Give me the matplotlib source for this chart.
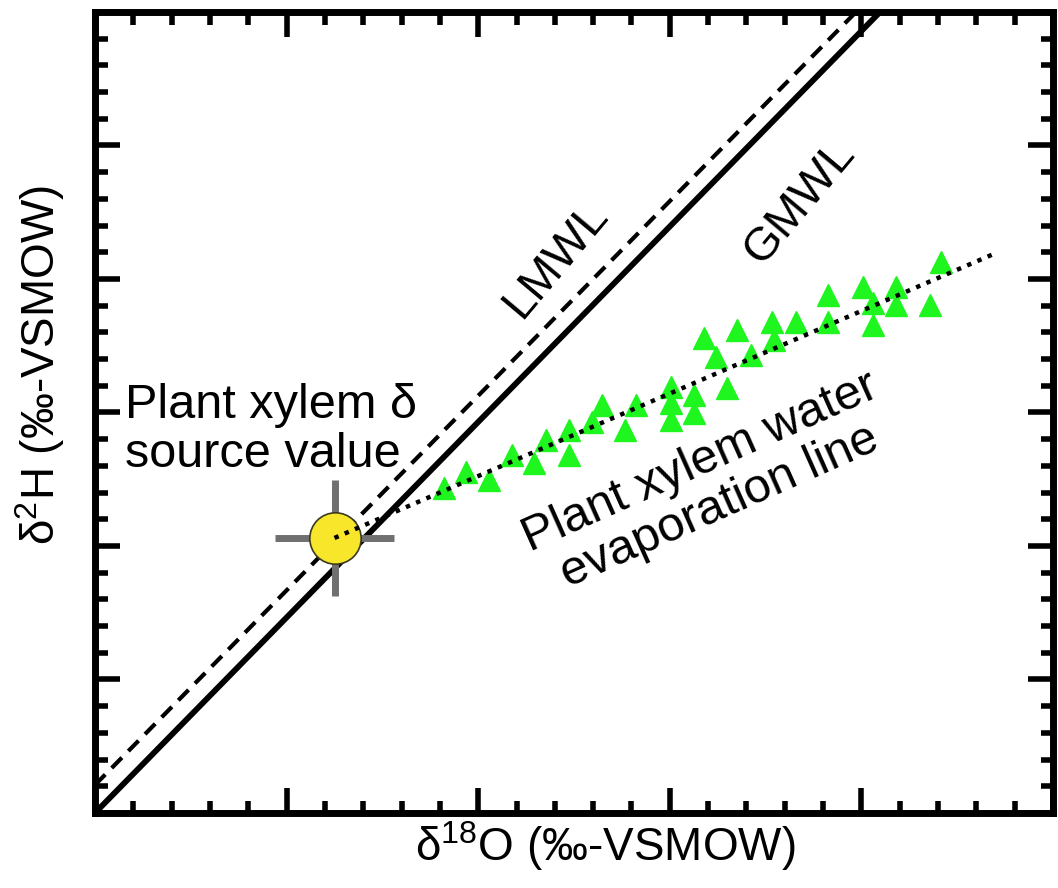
import matplotlib.pyplot as plt
from matplotlib.ticker import MultipleLocator

plt.rcParams['font.family'] = ['Liberation Sans', 'DejaVu Sans']
plt.rcParams['mathtext.fontset'] = 'custom'
plt.rcParams['mathtext.rm'] = 'Liberation Sans'

# plant xylem water samples (arbitrary delta units, no tick labels in source)
xylem_d18o = [1.823, 1.938, 2.057, 2.177, 2.292, 2.354, 2.474, 2.474, 2.594, 2.646,
              2.766, 2.823, 3.005, 3.005, 3.005, 3.125, 3.125, 3.177, 3.240, 3.297,
              3.349, 3.422, 3.531, 3.542, 3.656, 3.828, 3.828, 4.010, 4.063, 4.063,
              4.182, 4.182, 4.359, 4.417]
xylem_d2h = [2.434, 2.554, 2.494, 2.682, 2.622, 2.794, 2.869, 2.682, 2.929, 3.056,
             2.869, 3.056, 3.191, 3.071, 2.944, 3.131, 2.996, 3.558, 3.416, 3.184,
             3.618, 3.431, 3.678, 3.543, 3.678, 3.880, 3.678, 3.940, 3.820, 3.655,
             3.940, 3.805, 3.805, 4.127]

# source value with uncertainty
source_x, source_y = 1.25, 2.06
source_xerr, source_yerr = 0.31, 0.435

# meteoric water lines and evaporation line (end points)
gmwl_x = [0.0, 4.5]
gmwl_y = [0.0, 6.59]
lmwl_x = [0.0, 4.5]
lmwl_y = [0.21, 6.77]
evap_x = [1.25, 4.703]
evap_y = [2.06, 4.195]

fig = plt.figure(figsize=(10.58, 8.88), dpi=100)
ax = fig.add_axes([0.0898, 0.0845, 0.9055, 0.902])

ax.plot(gmwl_x, gmwl_y, color='black', lw=4.2, solid_capstyle='butt', zorder=2)
ax.plot(lmwl_x, lmwl_y, color='black', lw=3, ls=(0, (3.5, 2.2)), zorder=2)
ax.plot(xylem_d18o, xylem_d2h, '^', color='#1ff51f', ms=16, mec='#1ff51f', zorder=3)
ax.errorbar(source_x, source_y, xerr=source_xerr, yerr=source_yerr, fmt='none',
            ecolor='#707070', elinewidth=5, capsize=0, zorder=3)
ax.plot(source_x, source_y, 'o', ms=37, color='#f7e62a', mec='#3a3a20', mew=1.2, zorder=4)
ax.plot(evap_x, evap_y, color='black', lw=3.2, ls=(0, (1, 1.5)), zorder=5)

ax.set_xlim(0, 5)
ax.set_ylim(0, 6)
ax.xaxis.set_major_locator(MultipleLocator(1))
ax.xaxis.set_minor_locator(MultipleLocator(0.2))
ax.yaxis.set_major_locator(MultipleLocator(1))
ax.yaxis.set_minor_locator(MultipleLocator(0.2))
ax.tick_params(which='both', direction='in', top=True, right=True,
               labelbottom=False, labelleft=False, width=4)
ax.tick_params(which='major', length=18)
ax.tick_params(which='minor', length=9)
for s in ax.spines.values():
    s.set_linewidth(5)

ax.text(0.156, 2.87, 'Plant xylem δ\nsource value', fontsize=35, ha='left', va='center',
        linespacing=1.1, zorder=6)
ax.text(2.406, 4.14, 'LMWL', fontsize=34, rotation=50, ha='center', va='center',
        rotation_mode='anchor')
ax.text(3.68, 4.58, 'GMWL', fontsize=34, rotation=50, ha='center', va='center',
        rotation_mode='anchor')
ax.text(3.21, 2.46, 'Plant xylem water\nevaporation line', fontsize=35, rotation=24,
        ha='center', va='center', multialignment='center', rotation_mode='anchor',
        linespacing=1.1)

fig.text(0.572, 0.047, 'δ$^{18}$O (‰-VSMOW)', fontsize=33, ha='center', va='center')
fig.text(0.038, 0.589, 'δ$^{2}$H (‰-VSMOW)', fontsize=33, ha='center', va='center',
         rotation=90)

fig.savefig('out.png', dpi=100)
